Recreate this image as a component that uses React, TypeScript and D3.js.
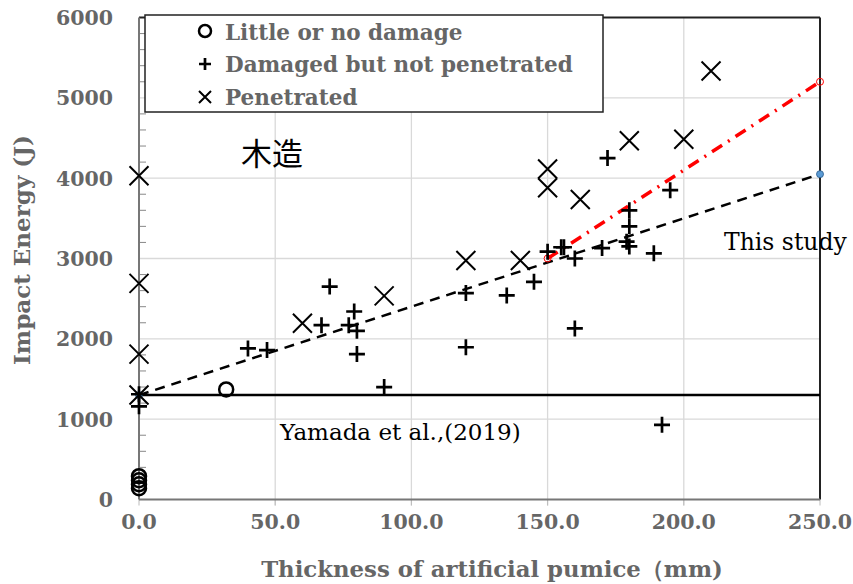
import * as d3 from 'd3';

const littleX = [0, 0, 0, 0, 32];
const littleY = [140, 190, 240, 290, 1370];

const damagedX = [0, 0, 40, 47, 67, 70, 77, 79, 80, 80, 90, 120, 120, 135, 145, 150, 155, 156, 160, 160, 170, 172, 179, 180, 180, 180, 189, 192, 195];
const damagedY = [1160, 1310, 1880, 1860, 2170, 2650, 2170, 2340, 2100, 1810, 1400, 2570, 1895, 2540, 2710, 3085, 3140, 3140, 3000, 2130, 3130, 4250, 3210, 3150, 3400, 3600, 3065, 930, 3850];

const penetratedX = [0, 0, 0, 0, 60, 90, 120, 140, 150, 150, 162, 180, 200, 210];
const penetratedY = [4030, 2690, 1810, 1300, 2195, 2535, 2975, 2975, 4115, 3880, 3735, 4465, 4485, 5335];

const studyX = [0, 250];
const studyY = [1300, 4050];
const redX = [150, 250];
const redY = [3000, 5200];
const yamadaX = [0, 250];
const yamadaY = [1300, 1300];

const xTicks = [0, 50, 100, 150, 200, 250];
const yTicks = [0, 1000, 2000, 3000, 4000, 5000, 6000];
const legendLabels = ['Little or no damage', 'Damaged but not penetrated', 'Penetrated'];

const W = 853, H = 584;
const serif = "'DejaVu Serif', serif";

const x = d3.scaleLinear().domain([0, 250]).range([139, 820]);
const y = d3.scaleLinear().domain([0, 6000]).range([499.5, 17.5]);

const Plus = ({ cx, cy, s = 8 }) => (
  <path d={`M${cx - s},${cy}H${cx + s}M${cx},${cy - s}V${cy + s}`} stroke="#000" strokeWidth={2.7} fill="none" />
);
const Cross = ({ cx, cy, s = 9.5 }) => (
  <path d={`M${cx - s},${cy - s}L${cx + s},${cy + s}M${cx - s},${cy + s}L${cx + s},${cy - s}`} stroke="#000" strokeWidth={2} fill="none" />
);
const Circ = ({ cx, cy, r = 7 }) => (
  <circle cx={cx} cy={cy} r={r} fill="none" stroke="#000" strokeWidth={2.5} />
);

export default function App() {
  const seg = (xs: number[], ys: number[]) =>
    d3.line<number>().x((_, i) => x(xs[i])).y((_, i) => y(ys[i]))(xs.map((_, i) => i)) || '';
  const minor = d3.range(0, 6001, 200).filter((v) => v % 1000 !== 0);

  return (
    <svg width={W} height={H} style={{ position: 'absolute', left: 0, top: 0 }} fontFamily={serif}>
      <rect width={W} height={H} fill="#fff" />
      {/* grid */}
      {xTicks.slice(1, -1).map((t) => (
        <line key={'gx' + t} x1={x(t)} x2={x(t)} y1={y(6000)} y2={y(0) + 6} stroke="#d9d9d9" strokeWidth={1.3} />
      ))}
      {yTicks.slice(1, -1).map((t) => (
        <line key={'gy' + t} x1={x(0)} x2={x(250)} y1={y(t)} y2={y(t)} stroke="#d9d9d9" strokeWidth={1.3} />
      ))}
      {/* minor y ticks */}
      {minor.map((t) => (
        <line key={'my' + t} x1={x(0)} x2={x(0) + 7} y1={y(t)} y2={y(t)} stroke="#888" strokeWidth={1} />
      ))}
      {xTicks.map((t) => (
        <line key={'tx' + t} x1={x(t)} x2={x(t)} y1={y(0)} y2={y(0) + 6} stroke="#bbb" strokeWidth={1} />
      ))}
      {/* frame */}
      <line x1={x(0)} x2={x(250)} y1={y(6000)} y2={y(6000)} stroke="#222" strokeWidth={2} />
      <line x1={x(250)} x2={x(250)} y1={y(6000)} y2={y(0)} stroke="#222" strokeWidth={2} />
      <line x1={x(0)} x2={x(0)} y1={y(6000)} y2={y(0)} stroke="#777" strokeWidth={2} />
      <line x1={x(0)} x2={x(250)} y1={y(0)} y2={y(0)} stroke="#777" strokeWidth={2} />

      {/* tick labels */}
      {yTicks.map((t) => (
        <text key={'ly' + t} x={113} y={y(t)} dy="0.36em" textAnchor="end" fontSize={20.5} fontWeight="bold" fill="#666">{t}</text>
      ))}
      {xTicks.map((t) => (
        <text key={'lx' + t} x={x(t)} y={529} textAnchor="middle" fontSize={20.5} fontWeight="bold" fill="#666">{t.toFixed(1)}</text>
      ))}
      <text x={492} y={577} textAnchor="middle" fontSize={22.8} fill="#666" fontWeight="bold">Thickness of artificial pumice（mm)</text>
      <text transform="translate(30,250) rotate(-90)" textAnchor="middle" fontSize={23} fill="#666" fontWeight="bold">Impact Energy (J)</text>

      {/* lines */}
      <path d={seg(yamadaX, yamadaY)} stroke="#000" strokeWidth={2.6} fill="none" />
      <path d={seg(studyX, studyY)} stroke="#000" strokeWidth={2.5} strokeDasharray="10,7" fill="none" />
      <path d={seg(redX, redY)} stroke="#ff0000" strokeWidth={3.5} strokeDasharray="12,7,2,7" fill="none" />
      {studyX.map((v, i) => (
        <circle key={'sd' + i} cx={x(v)} cy={y(studyY[i])} r={3.5} fill="#5b9bd5" stroke="#2a5a8a" strokeWidth={0.8} />
      ))}
      {redX.map((v, i) => (
        <circle key={'rd' + i} cx={x(v)} cy={y(redY[i])} r={3.5} fill="none" stroke="#ff0000" strokeWidth={1} />
      ))}

      {/* points */}
      {littleX.map((v, i) => <Circ key={'c' + i} cx={x(v)} cy={y(littleY[i])} />)}
      {damagedX.map((v, i) => <Plus key={'p' + i} cx={x(v)} cy={y(damagedY[i])} />)}
      {penetratedX.map((v, i) => <Cross key={'x' + i} cx={x(v)} cy={y(penetratedY[i])} />)}

      {/* annotations */}
      <text x={272} y={165} textAnchor="middle" fontSize={31} fontFamily="'Noto Sans CJK JP', sans-serif" fill="#000">木造</text>
      <text x={280} y={440} fontSize={23} fill="#000">Yamada et al.,(2019)</text>
      <text x={724} y={250} fontSize={23.5} fill="#000">This study</text>

      {/* legend */}
      <rect x={145} y={15} width={458} height={97} fill="#fff" stroke="#222" strokeWidth={1.5} />
      <Circ cx={205} cy={31} r={6} />
      <Plus cx={205} cy={64} s={6} />
      <Cross cx={205} cy={97} s={6} />
      {legendLabels.map((l, i) => (
        <text key={l} x={225} y={32 + i * 32.5} dy="0.36em" fontSize={21.5} fill="#666" fontWeight="bold">{l}</text>
      ))}
    </svg>
  );
}
